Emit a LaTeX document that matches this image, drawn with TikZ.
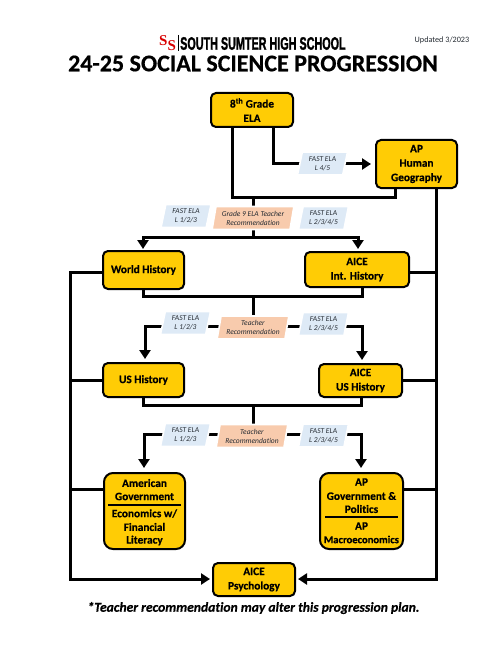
\documentclass[tikz,border=0pt]{standalone}
\usepackage{fontspec}
\setmainfont{Carlito}[Ligatures=NoCommon,BoldFeatures={FakeBold=0.5},BoldItalicFeatures={FakeBold=0.5}]
\newfontfamily\headfont{Liberation Sans}[BoldFeatures={FakeBold=1.6}]
\newfontfamily\logofont{Liberation Serif}
\usetikzlibrary{arrows.meta,shapes.geometric}
\definecolor{boxgold}{HTML}{FFCC05}
\definecolor{fastblue}{HTML}{DEEAF6}
\definecolor{recpeach}{HTML}{F8CBAD}
\definecolor{labelink}{HTML}{262C33}
\tikzset{
  course/.style={draw=black,line width=2pt,fill=boxgold,rounded corners=5pt,inner sep=0pt,
    font=\fontsize{11.3}{14.4}\selectfont\bfseries,align=center,text=black},
  bigcourse/.style={course,rounded corners=9pt},
  boxtext/.style={inner sep=0pt,font=\fontsize{11.3}{14}\selectfont\bfseries,text=black},
  tag/.style={trapezium,trapezium stretches=true,trapezium left angle=77,trapezium right angle=103,
    draw=white,line width=1.6pt,inner sep=0pt,align=center,text=labelink,
    font=\fontsize{7.5}{9}\selectfont\itshape},
  fasttag/.style={tag,fill=fastblue,minimum width=50pt,minimum height=23pt},
  rectag/.style={tag,fill=recpeach,minimum height=23pt},
  conn/.style={line width=3pt,draw=black,line cap=butt,line join=miter},
  flow/.style={conn,-{Triangle[length=9pt,width=11pt]}},
}
\newcommand{\coursebox}[7][course]{% style,name,x1,y1,x2,y2,text
  \node[#1,minimum width=#5pt-#3pt,minimum height=#6pt-#4pt,anchor=center] (#2) at ({(#3+#5)/2},{(#4+#6)/2}) {#7};}
\begin{document}
\begin{tikzpicture}[x=1pt,y=-1pt]
\useasboundingbox[fill=white] (0,0) rectangle (500,647);
% heading
\node[inner sep=0pt,text=red!85!black,font=\fontsize{15}{15}\selectfont\logofont\bfseries] (logo) at (167.5,43) {S\raisebox{-5.5pt}{S}};
\coordinate (rulet) at (178,35);
\coordinate (ruleb) at (178,51);
\draw[line width=0.6pt] (rulet) -- (ruleb);
\node[inner sep=0pt,anchor=west] (school) at (180,43.5) {\scalebox{0.76}[1.27]{\headfont\fontsize{14.2}{14}\selectfont\bfseries SOUTH SUMTER HIGH SCHOOL}};
\node[inner sep=0pt,text=labelink,font=\fontsize{8.2}{10}\selectfont] (updated) at (442,40.5) {Updated 3/2023};
\node[inner sep=0pt,font=\fontsize{24}{28}\selectfont\bfseries] (title) at (253,63.5) {24-25 SOCIAL SCIENCE PROGRESSION};
% routing coordinates
\coordinate (jtop) at (253,197);
\coordinate (bar1) at (253,237);
\coordinate (jone) at (253,296);
\coordinate (bar2) at (253,326);
\coordinate (jtwo) at (253,405);
\coordinate (bar3) at (253,434);
\coordinate (leftrail) at (70,579);
\coordinate (rightrail) at (436,579);
\coordinate (xa) at (232,0);
\coordinate (xb) at (273,0);
\coordinate (xc) at (395,0);
\coordinate (ya) at (0,164);
% boxes
\coursebox{ela}{211}{93}{293}{127}{8\textsuperscript{th} Grade\\ELA}
\coursebox{human}{376}{140}{457}{188}{AP\\Human\\Geography}
\coursebox{world}{103}{251}{184}{289}{World History}
\coursebox{aiceint}{305}{252}{409}{287}{AICE\\Int. History}
\coursebox{ushist}{103}{363}{184}{397}{US History}
\coursebox{aiceus}{319}{364}{402}{397}{AICE\\US History}
\coursebox[bigcourse]{amgov}{104}{473}{185}{549}{}
\coursebox[bigcourse]{apgov}{320}{473}{403}{549}{}
\coursebox{psych}{213}{563}{295}{596}{AICE\\Psychology}
% section text
\node[boxtext] (g1) at (144.5,483) {American};
\node[boxtext] (g2) at (144.5,496.5) {Government};
\node[boxtext] (g3) at (144.5,513.5) {Economics w/};
\node[boxtext] (g4) at (144.5,527) {Financial};
\node[boxtext] (g5) at (144.5,540.5) {Literacy};
\node[boxtext] (p1) at (361.5,482) {AP};
\node[boxtext] (p2) at (361.5,496) {Government \&};
\node[boxtext] (p3) at (361.5,509) {Politics};
\node[boxtext] (p4) at (361.5,526) {AP};
\node[boxtext,font=\fontsize{10.6}{14}\selectfont\bfseries] (p5) at (361.5,539.5) {Macroeconomics};
\coordinate (gl) at (108,505); \coordinate (gr) at (181,505);
\coordinate (pl) at (325,517); \coordinate (pr) at (398,517);
\draw[line width=1.3pt] (gl) -- (gr);
\draw[line width=1.3pt] (pl) -- (pr);
% connectors
\draw[conn] (ela.south -| xa) |- (jtop) -| (human.south -| xc);
\draw[flow] (ela.south -| xb) |- ([xshift=-4pt]human.west |- ya);
\draw[conn] (jtop) -- (bar1);
\draw[flow] (bar1) -| ([yshift=1pt]world.north -| 143,0);
\draw[flow] (bar1) -| ([yshift=2pt]aiceint.north -| 358,0);
\draw[conn] (world.south -| 143,0) |- (jone) -| (aiceint.south -| 362,0);
\draw[conn] (jone) -- (bar2);
\draw[flow] (bar2) -| ([yshift=3pt]ushist.north -| 145,0);
\draw[flow] (bar2) -| ([yshift=3pt]aiceus.north -| 362,0);
\draw[conn] (ushist.south -| 143,0) |- (jtwo) -| (aiceus.south -| 361,0);
\draw[conn] (jtwo) -- (bar3);
\draw[flow] (bar3) -| ([yshift=4pt]amgov.north -| 144,0);
\draw[flow] (bar3) -| ([yshift=4pt]apgov.north -| 361,0);
\draw[flow] (world.west |- 0,272) -| (leftrail) -- ([xshift=-2pt]psych.west |- leftrail);
\draw[flow] (human.south -| rightrail) -- (rightrail) -- ([xshift=2pt]psych.east |- rightrail);
\draw[conn] (ushist.west |- 0,380) -- (leftrail |- 0,380);
\draw[conn] (amgov.west |- 0,489) -- (leftrail |- 0,489);
\draw[conn] (aiceint.east |- 0,272) -- (rightrail |- 0,272);
\draw[conn] (aiceus.east |- 0,380) -- (rightrail |- 0,380);
\draw[conn] (apgov.east |- 0,489) -- (rightrail |- 0,489);
% tags
\node[fasttag] (t45) at (322.5,163.5) {FAST ELA\\L 4/5};
\node[fasttag] (ta1) at (186,216) {FAST ELA\\L 1/2/3};
\node[rectag,minimum width=82pt] (ta2) at (253,218) {Grade 9 ELA Teacher\\Recommendation};
\node[fasttag] (ta3) at (323.5,218) {FAST ELA\\L 2/3/4/5};
\node[fasttag] (tb1) at (185.5,323) {FAST ELA\\L 1/2/3};
\node[rectag,minimum width=72pt] (tb2) at (253,327.5) {Teacher\\Recommendation};
\node[fasttag] (tb3) at (323.5,324) {FAST ELA\\L 2/3/4/5};
\node[fasttag] (tc1) at (185.5,435) {FAST ELA\\L 1/2/3};
\node[rectag,minimum width=72pt] (tc2) at (252,436) {Teacher\\Recommendation};
\node[fasttag] (tc3) at (323.5,435.5) {FAST ELA\\L 2/3/4/5};
% footer
\node[inner sep=0pt,font=\fontsize{13.6}{16}\selectfont\bfseries\itshape] (note) at (253.5,608) {*Teacher recommendation may alter this progression plan.};
\end{tikzpicture}
\end{document}
